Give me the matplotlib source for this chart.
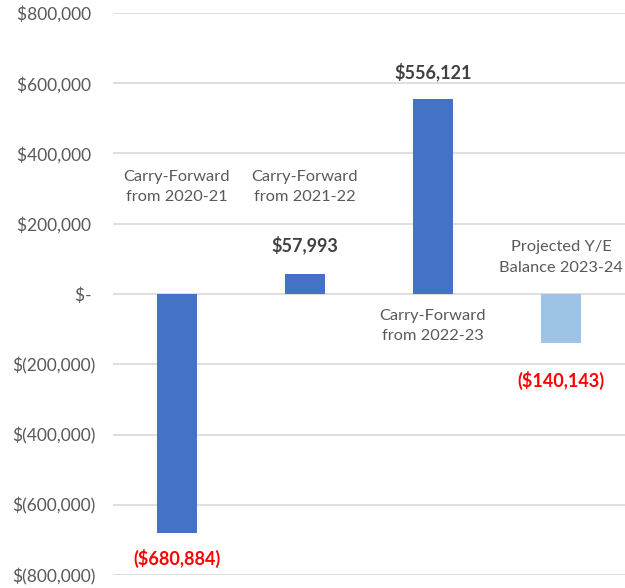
import matplotlib
matplotlib.use("Agg")
import matplotlib.pyplot as plt
from matplotlib.ticker import FuncFormatter, MultipleLocator

# data
categories = ["Carry-Forward\nfrom 2020-21", "Carry-Forward\nfrom 2021-22",
              "Carry-Forward\nfrom 2022-23", "Projected Y/E\nBalance 2023-24"]
values = [-680884, 57993, 556121, -140143]
value_labels = ["($680,884)", "$57,993", "$556,121", "($140,143)"]
bar_colors = ["#4472C4", "#4472C4", "#4472C4", "#9DC3E6"]
label_colors = ["#FF0000", "#404040", "#404040", "#FF0000"]
# where the category captions and value labels sit (y, in dollars)
cat_label_y = [305000, 305000, -91000, 104000]
value_label_y = [-752000, 139000, 632000, -245000]

plt.rcParams['font.family'] = ['Lato', 'DejaVu Sans']

fig = plt.figure(figsize=(6.25, 5.88), dpi=100)
ax = fig.add_axes([0.1808, 0.0221, 0.8192, 0.9558])

x = range(len(values))
ax.bar(x, values, width=0.31, color=bar_colors, zorder=3)

for i in x:
    ax.text(i, cat_label_y[i], categories[i], ha="center", va="center",
            fontsize=11.8, color="#595959", linespacing=1.6, zorder=4)
    ax.text(i, value_label_y[i], value_labels[i], ha="center", va="center",
            fontsize=13, fontweight="bold", color=label_colors[i], zorder=4)

# accounting style: positive numbers leave room for the closing bracket
def money(v, pos):
    if v == 0:
        return "$- "
    if v < 0:
        return "$({:,.0f})".format(-v)
    return "${:,.0f} ".format(v)

ax.set_ylim(-800000, 800000)
ax.set_xlim(-0.5, 3.5)
ax.yaxis.set_major_locator(MultipleLocator(200000))
ax.yaxis.set_major_formatter(FuncFormatter(money))
ax.tick_params(axis="y", length=0, pad=12.5, labelsize=12.5, labelcolor="#595959")
ax.set_xticks([])
ax.grid(axis="y", color="#D9D9D9", linewidth=1.2, zorder=0)
for s in ax.spines.values():
    s.set_visible(False)

fig.savefig("out.png", dpi=100)
